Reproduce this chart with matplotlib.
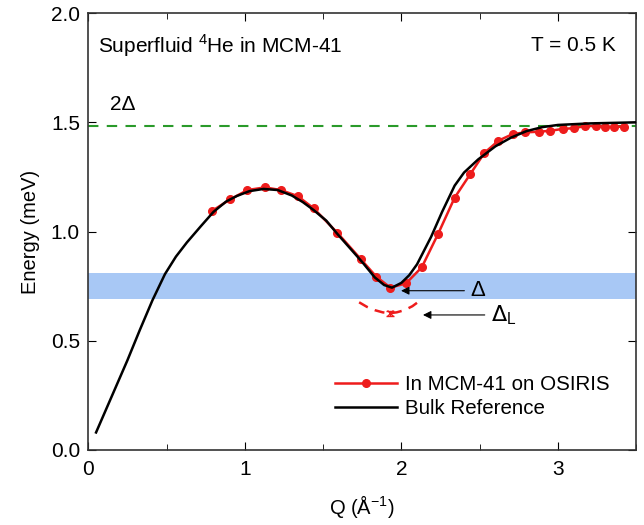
import matplotlib
matplotlib.use("Agg")
import matplotlib.pyplot as plt
from matplotlib.ticker import MultipleLocator, FormatStrFormatter

plt.rcParams['font.family'] = ['Liberation Sans', 'DejaVu Sans']

# Bulk reference dispersion (black)
bulk_q = [0.05, 0.15, 0.25, 0.33, 0.41, 0.49, 0.56, 0.63, 0.72, 0.80, 0.88, 0.95, 1.03, 1.12,
          1.21, 1.30, 1.37, 1.44, 1.52, 1.59, 1.67, 1.75, 1.83, 1.89, 1.94, 2.00, 2.05,
          2.10, 2.19, 2.26, 2.34, 2.40, 2.49, 2.60, 2.70, 2.80, 2.90, 3.00, 3.20, 3.50]
bulk_e = [0.08, 0.245, 0.41, 0.55, 0.685, 0.805, 0.885, 0.95, 1.025, 1.09, 1.137, 1.163, 1.185,
          1.195, 1.19, 1.165, 1.135, 1.098, 1.05, 0.99, 0.925, 0.86, 0.79, 0.755, 0.743, 0.765,
          0.80, 0.85, 0.976, 1.09, 1.21, 1.27, 1.33, 1.39, 1.43, 1.46, 1.478, 1.488, 1.495, 1.50]

# MCM-41 data on OSIRIS (red)
mcm_q = [0.79, 0.906, 1.017, 1.128, 1.23, 1.338, 1.44, 1.59, 1.74, 1.84, 1.93, 2.03, 2.13,
         2.235, 2.34, 2.44, 2.53, 2.62, 2.71, 2.79, 2.876, 2.95, 3.03, 3.10, 3.175, 3.24,
         3.30, 3.36, 3.42]
mcm_e = [1.094, 1.147, 1.19, 1.202, 1.19, 1.162, 1.106, 0.995, 0.874, 0.793, 0.743, 0.763,
         0.836, 0.99, 1.155, 1.263, 1.36, 1.416, 1.446, 1.454, 1.457, 1.461, 1.47, 1.473,
         1.483, 1.483, 1.48, 1.48, 1.48]

# Layer roton arc (red dashed)
arc_q = [1.73, 1.78, 1.83, 1.88, 1.925, 1.97, 2.02, 2.07, 2.11]
arc_e = [0.676, 0.655, 0.640, 0.630, 0.626, 0.630, 0.640, 0.658, 0.679]
layer_q = [1.925]
layer_e = [0.626]
layer_err = [0.012]

two_delta = 1.484
band_lo, band_hi = 0.69, 0.81

fig = plt.figure(figsize=(6.44, 5.25), dpi=100)
ax = fig.add_axes([0.137, 0.143, 0.851, 0.832])

ax.axhspan(band_lo, band_hi, color='#a8c8f5', lw=0, zorder=0)
ax.axhline(two_delta, color='#2a9a2a', ls=(0, (5, 4)), lw=1.5, zorder=1)

ax.plot(arc_q, arc_e, color='#ee1c1c', ls=(0, (4, 3)), lw=1.8, zorder=2)
ax.errorbar(layer_q, layer_e, yerr=layer_err, fmt='x', color='#ee1c1c', ms=5, capsize=3,
            lw=1, zorder=3)

ax.plot(mcm_q, mcm_e, color='#ee1c1c', lw=1.8, marker='o', ms=5.5,
        label='In MCM-41 on OSIRIS', zorder=3)
ax.plot(bulk_q, bulk_e, color='black', lw=1.8, label='Bulk Reference', zorder=4)

ax.annotate('', xy=(1.98, 0.729), xytext=(2.42, 0.729),
            arrowprops=dict(arrowstyle='-|>', color='black', lw=0.8, mutation_scale=12))
ax.text(2.44, 0.729, 'Δ', fontsize=16, va='center', ha='left')
ax.annotate('', xy=(2.12, 0.618), xytext=(2.55, 0.618),
            arrowprops=dict(arrowstyle='-|>', color='black', lw=0.8, mutation_scale=12))
ax.text(2.57, 0.618, r'$\Delta_\mathregular{L}$', fontsize=16, va='center', ha='left')

ax.text(0.06, 1.85, r'Superfluid $^\mathregular{4}$He in MCM-41', fontsize=15, va='center')
ax.text(3.37, 1.85, 'T = 0.5 K', fontsize=15, va='center', ha='right')
ax.text(0.14, 1.58, '2Δ', fontsize=15, va='center')

ax.set_xlim(0, 3.5)
ax.set_ylim(0, 2.0)
ax.xaxis.set_major_locator(MultipleLocator(1))
ax.xaxis.set_minor_locator(MultipleLocator(0.5))
ax.yaxis.set_major_locator(MultipleLocator(0.5))
ax.yaxis.set_major_formatter(FormatStrFormatter('%.1f'))
ax.tick_params(which='both', direction='in', top=True, right=True, labelsize=15)
ax.tick_params(axis='x', which='major', pad=7)
ax.tick_params(axis='y', which='major', pad=6)
ax.tick_params(which='major', length=6)
ax.tick_params(which='minor', length=4)
for s in ax.spines.values():
    s.set_linewidth(1.2)
    s.set_color('#333333')

ax.set_xlabel(r'Q ($\mathregular{\AA^{-1}}$)', fontsize=14.5, labelpad=10)
ax.set_ylabel('Energy (meV)', fontsize=14.5, labelpad=8)

ax.legend(loc='lower right', bbox_to_anchor=(0.985, 0.03), frameon=False, fontsize=14.8,
          handlelength=3.0, handletextpad=0.4, labelspacing=0.25)

fig.savefig('out.png', dpi=100)
